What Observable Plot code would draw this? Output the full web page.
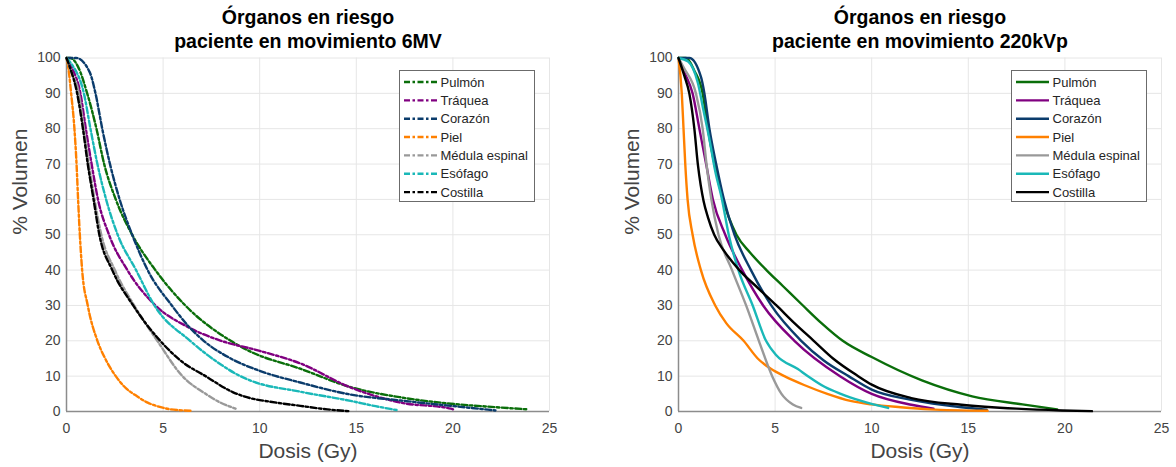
<!DOCTYPE html>
<html><head><meta charset="utf-8">
<script src="https://cdn.jsdelivr.net/npm/d3@7"></script>
<script src="https://cdn.jsdelivr.net/npm/@observablehq/plot@0.6"></script>
<style>
body{margin:0;background:#fff;}
#wrap{position:relative;width:1176px;height:467px;overflow:hidden;background:#fff;}
#wrap svg{position:absolute;top:0;}
</style></head><body><div id="wrap"></div>
<script>
const organs = ["Pulmón","Tráquea","Corazón","Piel","Médula espinal","Esófago","Costilla"];
const colors = ["#0a6e0a","#800080","#0b3c6c","#ff8000","#999999","#1ab8b8","#000000"];
const xTicks = [0,5,10,15,20,25];
const yTicks = [0,10,20,30,40,50,60,70,80,90,100];
const titles = ["Órganos en riesgo\npaciente en movimiento 6MV","Órganos en riesgo\npaciente en movimiento 220kVp"];
const xLabel = "Dosis (Gy)";
const yLabel = "% Volumen";

// 6MV (dash-dot) — [dose Gy, % volume]
const pulmon6 = [[0,100],[0.2,100],[0.6,97.5],[1.07,90],[1.55,80],[1.95,70],[2.55,60],[3.4,50],[4.6,40],[6.15,30],[8.5,20],[9.5,17],[12.1,12.1],[14.7,6.9],[17.3,4.0],[19.9,2.2],[22,1.3],[23.9,0.6]];
const traquea6 = [[0,100],[0.3,97],[0.72,90],[1.0,80],[1.3,70],[1.63,60],[2.2,50],[3.15,40],[4.6,30],[6.25,24],[8.0,20],[9.9,17.3],[12.1,13.6],[14.7,6.8],[17.3,2.5],[19.9,0.8],[20.1,0.4]];
const corazon6 = [[0,100],[0.5,100],[1.2,96],[1.5,90],[1.85,80],[2.25,70],[2.75,60],[3.4,50],[4.2,40],[5.45,30],[6.25,24.5],[7.1,20],[8.5,15],[10,11.5],[12.1,8.2],[14.7,4.8],[17.3,3.1],[19.9,1.6],[22.2,0.3]];
const piel6 = [[0,100],[0.1,97],[0.24,90],[0.41,80],[0.52,70],[0.6,60],[0.69,50],[0.81,40],[1.1,30],[1.6,20],[2.0,15],[2.55,10],[3.0,7],[3.65,4.3],[4.2,2.5],[4.7,1.5],[5.3,0.7],[6.0,0.3],[6.5,0.2]];
const medula6 = [[0,100],[0.25,96],[0.64,90],[0.9,80],[1.16,70],[1.45,60],[1.8,50],[2.5,40],[3.5,30],[4.7,20],[6.0,10],[7.2,5],[7.9,2.7],[8.75,0.8]];
const esofago6 = [[0,100],[0.3,98],[0.9,90],[1.24,80],[1.6,70],[2.05,60],[2.65,50],[3.6,40],[4.55,30],[6.4,20],[7.8,14],[9.0,10],[9.5,8.8],[12.1,5.6],[14.7,3.0],[16.0,1.5],[17.2,0.3]];
const costilla6 = [[0,100],[0.2,97],[0.55,90],[0.85,80],[1.1,70],[1.4,60],[1.7,50],[2.37,40],[3.45,30],[4.85,20],[6.0,14],[7.2,10],[8.6,5.5],[9.5,3.8],[10.5,2.8],[12.1,1.6],[13.5,0.6],[14.6,0.1]];

// 220kVp (solid)
const pulmon220 = [[0,100],[0.4,100],[0.82,96.4],[1.25,90],[1.52,80],[1.86,70],[2.3,60],[3.0,50],[3.7,45],[4.55,40],[5.4,35.5],[6.4,30.2],[7.4,25],[8.5,20],[10,15.4],[12.6,8.8],[15.2,4.3],[17.8,2.0],[19.6,0.6]];
const traquea220 = [[0,100],[0.3,96],[0.73,90],[1.08,80],[1.43,70],[1.78,60],[2.42,50],[3.3,40],[4.38,30],[6.0,20],[8.36,10],[10,5.0],[12.05,1.9],[13.2,0.8]];
const corazon220 = [[0,100],[0.56,100],[1.17,94.5],[1.34,90],[1.6,80],[1.95,70],[2.35,60],[2.9,50],[3.75,40],[4.8,30],[6.35,20],[7.5,14.5],[8.8,10],[10,6.2],[12.05,3.3],[14.65,1.2],[15.95,0.5]];
const piel220 = [[0,100],[0.17,90],[0.26,80],[0.35,70],[0.47,60],[0.73,50],[1.16,40],[1.9,30],[2.47,25],[3.37,20],[4.1,15],[4.8,12],[5.48,10],[6.5,7.5],[7.7,5],[8.9,3],[10,2],[11.5,1.2],[13,0.6],[16,0.2]];
const medula220 = [[0,100],[0.3,97],[0.9,90],[1.25,80],[1.45,70],[1.7,60],[2.07,50],[2.77,40],[3.5,30],[4.16,20],[4.85,10],[5.33,5],[5.92,2],[6.35,1]];
const esofago220 = [[0,100],[0.5,99],[1.0,93],[1.3,85],[1.6,77],[1.9,68],[2.25,60],[2.6,50],[3.1,40],[3.84,30],[4.53,20],[5.05,16],[6.18,12],[6.7,10],[7.56,7],[8.4,5],[9.46,3],[10.85,1]];
const costilla220 = [[0,100],[0.3,95],[0.56,90],[0.82,80],[1.0,70],[1.15,64],[1.3,59.5],[1.52,55],[1.85,50],[2.35,45.5],[3.15,40],[4.1,35],[5.07,30],[6.0,25],[7.0,20],[8.0,15],[9.3,10],[10,7.6],[12.05,3.8],[14.65,1.9],[17.5,0.8],[19.85,0.3],[21.4,0.1]];

const series6 = [pulmon6,traquea6,corazon6,piel6,medula6,esofago6,costilla6];
const series220 = [pulmon220,traquea220,corazon220,piel220,medula220,esofago220,costilla220];

const FONT = "'Liberation Sans', Arial, Helvetica, sans-serif";
const AXIS = "#8c8c8c";
const GRID = "#e6e6e6";
const TXT = "#444444";
const DASHDOT = "6,2.5,2.5,2.5";

function panel(series, dash, title, ml, mr) {
  return Plot.plot({
    width: 588, height: 467,
    marginLeft: ml, marginRight: mr, marginTop: 57.5, marginBottom: 56,
    x: {domain: [0, 25]},
    y: {domain: [0, 100]},
    style: {fontFamily: FONT, fontSize: "14px", color: TXT, background: "transparent", overflow: "visible"},
    marks: [
      Plot.gridX(xTicks, {stroke: GRID, strokeOpacity: 1}),
      Plot.gridY(yTicks, {stroke: GRID, strokeOpacity: 1}),
      Plot.axisX(xTicks, {tickSize: 0, tickPadding: 12, label: null, fontSize: 14, fill: TXT}),
      Plot.axisY(yTicks, {tickSize: 0, tickPadding: 6, label: null, fontSize: 14, fill: TXT}),
      Plot.ruleX([0], {stroke: AXIS, strokeWidth: 1.5}),
      Plot.ruleY([0], {stroke: AXIS, strokeWidth: 1.5}),
      ...series.map((s, i) => Plot.line(s, {x: d => d[0], y: d => d[1], curve: "monotone-x", stroke: colors[i], strokeWidth: 2.4, strokeDasharray: dash, strokeLinejoin: "round"})),
      Plot.text([title], {frameAnchor: "top", lineAnchor: "middle", dy: -30, lineHeight: 1.28, fontSize: 19.5, fontWeight: "bold", fill: "#000"}),
      Plot.text([xLabel], {frameAnchor: "bottom", dy: 46, fontSize: 21, fill: TXT}),
      Plot.text([yLabel], {frameAnchor: "left", dx: -46, rotate: -90, fontSize: 21, fill: TXT})
    ]
  });
}

function legend(dash, left) {
  const w = 136, h = 132, y0 = 12, rowH = 18.35;
  const svg = d3.create("svg").attr("width", w).attr("height", h)
    .style("left", left + "px").style("top", "70px");
  svg.append("rect").attr("x", 0.5).attr("y", 0.5).attr("width", w - 1).attr("height", h - 1)
    .attr("fill", "white").attr("stroke", "#6b6b6b").attr("stroke-width", 1);
  organs.forEach((o, i) => {
    const y = y0 + i * rowH;
    svg.append("line").attr("x1", 5).attr("x2", 38).attr("y1", y).attr("y2", y)
      .attr("stroke", colors[i]).attr("stroke-width", 2.4).attr("stroke-dasharray", dash);
    svg.append("text").attr("x", 41.5).attr("y", y).attr("dy", "0.36em")
      .attr("font-family", FONT).attr("font-size", 13).attr("fill", "#262626").text(o);
  });
  return svg.node();
}

const wrap = document.getElementById("wrap");
const p1 = panel(series6, DASHDOT, titles[0], 66, 39);
p1.style.left = "0px";
const p2 = panel(series220, null, titles[1], 90, 15);
p2.style.left = "588px";
wrap.appendChild(p1);
wrap.appendChild(p2);
wrap.appendChild(legend(DASHDOT, 399));
wrap.appendChild(legend(null, 1011));
</script></body></html>
